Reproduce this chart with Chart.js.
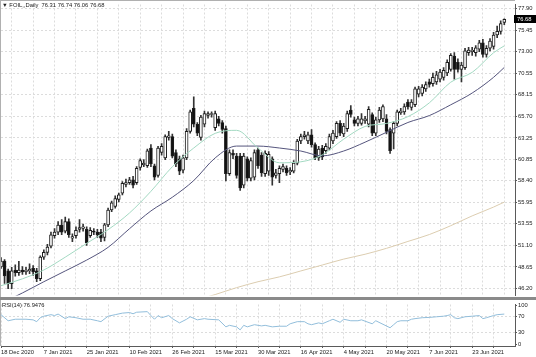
<!DOCTYPE html>
<html><head><meta charset="utf-8">
<script src="https://cdn.jsdelivr.net/npm/chart.js@4.4.1/dist/chart.umd.min.js"></script>
<style>
html,body{margin:0;padding:0;background:#fff;width:536px;height:357px;overflow:hidden;}
#wrap{position:relative;width:536px;height:357px;background:#fff;}
#main{position:absolute;left:0;top:0;}
#rsi{position:absolute;left:0;top:300px;}
.lbl{position:absolute;font:5.8px "Liberation Sans",Arial,sans-serif;color:#222;white-space:pre;line-height:7px;}
</style></head><body>
<div id="wrap">
<canvas id="main" width="536" height="300"></canvas>
<canvas id="rsi" width="536" height="57"></canvas>
<div class="lbl" id="t1" style="left:2px;top:2px"></div>
<div class="lbl" id="t2" style="left:2px;top:302px"></div>
</div>
<script>
// ---- data ----
const symbolTitle = 'FOIL,,Daily';
const tickLabels = ['18 Dec 2020','7 Jan 2021','25 Jan 2021','10 Feb 2021','26 Feb 2021','15 Mar 2021','30 Mar 2021','16 Apr 2021','4 May 2021','20 May 2021','7 Jun 2021','23 Jun 2021'];
const priceTicks = [77.90,75.45,73.00,70.55,68.15,65.70,63.25,60.85,58.40,55.95,53.55,51.10,48.65,46.20];
const rsiTicks = [0,30,70,100];
const rsiLevels = [30,70];

const opens = [48.65,49.32,48.2,46.76,48.3,48.0,48.3,48.1,48.2,48.5,
48.2,47.32,49.77,50.3,51.0,52.2,52.6,53.4,52.7,53.8,
51.9,52.2,52.9,53.0,52.9,52.2,52.7,52.6,52.6,51.99,
53.4,55.1,55.5,56.3,57.0,58.0,58.2,58.5,58.2,59.9,
60.2,60.1,62.1,60.1,59.0,61.6,61.0,63.3,63.4,61.6,
60.9,59.6,61.0,64.0,66.6,64.8,63.3,64.8,65.8,65.9,
64.4,65.4,65.0,64.3,59.2,61.5,61.2,61.2,57.9,60.9,
58.7,58.8,61.9,61.3,59.2,59.5,60.9,59.0,59.2,59.7,
59.8,59.4,59.5,60.4,62.9,63.4,62.9,63.6,62.5,61.0,
62.1,61.8,62.1,62.9,63.4,64.9,63.7,64.3,66.4,65.3,
64.9,64.9,65.2,64.8,65.9,63.8,65.3,65.4,65.4,64.2,
63.8,64.9,66.1,66.2,67.3,66.7,67.0,68.2,68.3,68.8,
69.6,69.4,69.6,69.9,70.1,70.6,71.0,72.5,71.8,71.0,
71.2,72.9,73.0,72.9,73.3,74.0,72.7,73.4,73.6,74.9,
75.3,76.31];
const highs = [49.7,49.5,48.4,48.6,48.9,49.3,48.7,48.6,49.0,48.8,
48.5,49.9,50.6,51.2,52.6,53.0,53.8,54.0,54.3,54.1,
52.4,53.2,54.0,53.5,53.2,53.1,53.0,52.9,52.9,53.6,
55.3,56.1,56.7,57.0,58.3,58.6,58.8,58.9,60.0,60.9,
60.8,62.0,62.5,60.3,62.3,62.6,63.6,64.0,63.7,61.9,
61.2,61.3,64.3,66.4,67.9,65.0,65.8,66.3,66.2,66.2,
66.3,65.7,65.2,64.6,61.9,61.9,61.5,61.5,61.5,61.1,
61.0,61.9,62.1,61.6,61.8,61.7,61.1,59.7,60.1,60.3,
60.1,59.9,60.7,63.1,63.7,64.0,63.9,64.2,62.7,62.3,
62.4,62.6,63.7,64.1,65.1,65.2,64.9,66.3,66.9,65.6,
65.7,66.0,65.7,66.8,66.1,65.6,66.7,67.0,65.9,64.4,
65.1,66.4,66.6,67.1,67.6,67.6,69.0,69.1,69.3,69.6,
69.9,70.6,70.8,71.0,71.2,72.1,72.8,72.9,72.2,71.8,
73.4,73.5,73.5,73.7,74.3,74.4,73.7,74.5,75.2,75.9,
76.5,76.74];
const lows = [48.5,46.8,46.2,46.2,47.6,47.7,47.8,47.8,47.9,47.7,
47.0,47.1,49.5,50.0,50.8,51.9,52.3,52.3,52.5,52.0,
51.5,51.9,52.6,52.7,51.1,52.0,52.3,52.0,51.5,51.6,
53.2,54.9,55.3,56.0,56.8,57.7,58.0,57.6,58.0,59.6,
60.0,59.9,60.0,58.5,58.8,61.3,60.8,63.0,61.0,60.0,
59.1,59.3,60.8,63.8,64.5,63.5,63.0,64.5,65.5,65.6,
64.1,64.6,63.8,58.4,59.0,60.9,58.7,57.3,57.6,58.4,
58.4,58.5,59.8,58.9,58.9,59.0,57.9,58.7,58.2,59.4,
59.0,59.1,59.3,60.2,62.6,63.1,62.6,62.2,60.8,60.7,
60.8,61.5,61.9,62.6,63.2,63.5,63.4,64.0,65.6,64.6,
64.6,64.7,64.9,64.5,63.5,63.5,65.0,65.1,63.7,61.5,
62.0,64.6,65.9,65.9,66.5,66.4,66.8,67.9,68.0,68.5,
69.0,69.1,69.3,69.6,69.8,70.3,70.8,69.9,70.7,69.6,
71.0,72.6,72.6,72.5,73.0,72.4,72.4,73.1,73.3,74.6,
75.0,76.06];
const closes = [49.32,47.65,46.76,48.21,48.0,48.3,48.1,48.3,48.4,48.1,
47.32,49.77,50.32,50.9,52.3,52.6,53.4,52.6,53.8,52.3,
52.1,52.8,53.1,53.2,51.4,52.8,52.6,52.3,51.9,53.43,
55.1,55.9,56.4,56.8,58.1,58.2,58.5,57.9,59.8,60.7,
60.4,61.8,60.3,58.8,62.1,62.3,63.4,63.5,61.2,60.3,
59.5,61.0,64.0,66.2,64.8,63.8,65.6,66.0,66.0,65.95,
66.0,64.9,64.2,59.2,61.6,61.3,59.0,57.6,61.2,58.7,
60.7,61.6,60.1,59.3,61.5,61.4,58.8,59.3,59.8,60.0,
59.3,59.6,60.4,62.9,63.4,63.6,63.6,62.5,61.0,62.0,
61.1,62.3,63.4,63.8,64.9,63.8,64.6,66.0,65.9,64.9,
65.4,65.4,65.4,66.5,63.8,65.3,66.4,66.8,64.0,61.8,
64.9,66.2,66.3,66.8,66.8,67.3,68.8,68.8,69.0,69.3,
69.3,70.1,70.4,70.7,70.9,71.8,72.6,71.0,71.0,71.5,
73.1,73.2,73.2,73.45,74.0,72.7,73.4,74.2,74.9,75.3,
76.2,76.68];

// moving averages read at grid lines: [bar index, value]
const maFast = [[0,46.53],[6,47.31],[12,48.31],[18,49.76],[24,51.32],[30,52.87],[36,54.76],[42,57.21],[48,59.99],[54,62.11],[60,63.77],[66,64.11],[72,62.11],[78,60.44],[84,60.55],[90,61.33],[96,63.11],[102,64.55],[108,64.89],[114,65.66],[120,67.22],[126,69.56],[132,70.67],[138,72.89],[141,73.67]];
const maSlow = [[0,44.53],[6,45.71],[12,46.98],[18,48.20],[24,49.43],[30,50.87],[36,52.98],[42,54.99],[48,56.54],[54,58.43],[60,60.99],[66,62.33],[72,62.33],[78,62.11],[84,61.77],[90,61.22],[96,61.77],[102,62.77],[108,63.89],[114,65.00],[120,65.78],[126,67.00],[132,68.33],[138,70.11],[141,71.23]];
const maLong = [[54,44.81],[60,45.53],[66,46.31],[72,46.98],[78,47.53],[84,48.20],[90,48.87],[96,49.54],[102,50.09],[108,50.76],[114,51.54],[120,52.32],[126,53.32],[132,54.43],[138,55.43],[141,55.99]];
const rsiPts = [[0,75.5],[2,60],[4,63.9],[7,63.9],[9,62.3],[10,57.7],[11,67.7],[12,71.6],[14,75.5],[15,73.2],[16,77.0],[18,65.4],[19,70.1],[21,67.7],[23,63.9],[25,63.9],[27,60],[28,57.7],[30,71.6],[32,75.5],[34,79.4],[36,80.9],[37,77.8],[38,81.7],[41,83.2],[42,73.2],[43,63.9],[44,73.2],[45,67.7],[47,73.2],[48,65.4],[50,54.6],[52,63.9],[53,70.1],[55,62.3],[57,65.4],[58,63.9],[61,62.3],[63,44.5],[64,48.4],[66,44.5],[67,36.8],[68,48.4],[69,44.5],[71,50],[73,46.9],[74,48.4],[76,44.5],[78,46.1],[80,46.1],[81,52.3],[83,57.7],[85,57.7],[86,52.3],[87,50],[89,54.6],[90,52.3],[92,60],[93,63.9],[95,56.1],[96,63.9],[98,60],[100,60],[101,62.3],[104,52.3],[105,60],[109,42.2],[110,50],[111,57.7],[112,60],[114,60],[115,63.9],[116,65.4],[118,67.7],[120,68.5],[122,70.1],[124,71.6],[125,73.2],[126,75.5],[127,67.7],[128,65.4],[130,70.1],[132,71.6],[134,73.2],[135,65.4],[136,67.7],[138,73.2],[139,75.5],[141,76.95]];
const rsiLast = 76.9476;

// ---- layout constants ----
const SLOTS = 145, LABEL_STEP = 12, GRID_STEP = 6;
const categories = Array.from({length: SLOTS}, (_, i) => 'b' + i);
const gridTicks = [];
for (let i = 0; i < SLOTS - 2; i += GRID_STEP) gridTicks.push(i);

const FONT = {family: '"Liberation Sans", Arial, sans-serif', size: 5.8};
const GRID_COLOR = '#dcdcdc';
const GRID_DASH = [2, 2];
const AXIS_COLOR = '#5a5a5a';
const CANDLE_LINE = '#1e1e1e';

document.getElementById('t1').textContent = '\u25BC ' + symbolTitle + '  ' +
  [opens[opens.length-1], highs[highs.length-1], lows[lows.length-1], closes[closes.length-1]].map(v => v.toFixed(2)).join(' ');
document.getElementById('t2').textContent = 'RSI(14) ' + rsiLast.toFixed(4);

const toPts = arr => arr.map(([i, v]) => ({x: categories[i], y: v}));

const mainDeco = {
  id: 'mainDeco',
  afterDraw(chart) {
    const ctx = chart.ctx;
    const y = chart.scales.y;
    ctx.save();
    ctx.fillStyle = '#b0b0b0';
    ctx.fillRect(0, 0, 515, 1);
    ctx.fillRect(0, 0, 1, 297);
    ctx.fillStyle = '#8a8a8a';
    ctx.fillRect(0, 297, 536, 3);
    const last = closes[closes.length - 1];
    const py = Math.round(y.getPixelForValue(last));
    ctx.fillStyle = '#000';
    ctx.fillRect(514, py - 4, 22, 8);
    ctx.fillStyle = '#fff';
    ctx.font = '5.8px "Liberation Sans", Arial, sans-serif';
    ctx.textBaseline = 'middle';
    ctx.textAlign = 'left';
    ctx.fillText(last.toFixed(2), 517, py + 0.5);
    ctx.restore();
  }
};

new Chart(document.getElementById('main'), {
  type: 'bar',
  data: {
    labels: categories,
    datasets: [
      {type: 'line', data: toPts(maFast), borderColor: '#a3d9c2', borderWidth: 1, pointRadius: 0, tension: 0.4, cubicInterpolationMode: 'monotone', order: 0},
      {type: 'line', data: toPts(maSlow), borderColor: '#55557d', borderWidth: 1, pointRadius: 0, tension: 0.4, cubicInterpolationMode: 'monotone', order: 0},
      {type: 'line', data: toPts(maLong), borderColor: '#dccdb0', borderWidth: 1, pointRadius: 0, tension: 0.4, cubicInterpolationMode: 'monotone', order: 0},
      {data: opens.map((o, i) => [o, closes[i]]), backgroundColor: opens.map((o, i) => closes[i] >= o ? '#ffffff' : '#111111'),
        borderColor: CANDLE_LINE, borderWidth: 1, borderSkipped: false, barThickness: 3, minBarLength: 1, grouped: false, order: 1},
      {data: highs.map((h, i) => [lows[i], h]), backgroundColor: '#333333', borderWidth: 0, barThickness: 1, grouped: false, order: 2}
    ]
  },
  options: {
    responsive: false, animation: false, devicePixelRatio: 1,
    layout: {padding: {left: 1, top: 1, right: 0, bottom: 3}},
    plugins: {legend: {display: false}, tooltip: {enabled: false}},
    scales: {
      x: {
        type: 'category', offset: false,
        afterBuildTicks: s => { s.ticks = gridTicks.map(v => ({value: v})); },
        afterFit: s => { s.height = 0; },
        ticks: {display: false, autoSkip: false},
        grid: {color: GRID_COLOR, drawTicks: false},
        border: {display: false, dash: GRID_DASH}
      },
      y: {
        position: 'right', min: 45.42, max: 78.35,
        afterBuildTicks: s => { s.ticks = priceTicks.map(v => ({value: v})); },
        afterFit: s => { s.width = 21; },
        ticks: {callback: v => Number(v).toFixed(2), font: FONT, color: '#222', padding: 1, autoSkip: false},
        grid: {color: GRID_COLOR, tickLength: 2, tickColor: AXIS_COLOR},
        border: {display: true, color: AXIS_COLOR, dash: GRID_DASH}
      }
    }
  },
  plugins: [mainDeco]
});

const rsiDeco = {
  id: 'rsiDeco',
  afterDraw(chart) {
    const ctx = chart.ctx;
    ctx.save();
    ctx.fillStyle = '#b0b0b0';
    ctx.fillRect(0, 0, 1, 46);
    ctx.restore();
  }
};

new Chart(document.getElementById('rsi'), {
  type: 'line',
  data: {
    labels: categories,
    datasets: [
      {data: toPts(rsiPts), borderColor: '#92bedb', borderWidth: 1, pointRadius: 0, tension: 0}
    ]
  },
  options: {
    responsive: false, animation: false, devicePixelRatio: 1,
    layout: {padding: {left: 1, top: 1, right: 0, bottom: 0}},
    plugins: {legend: {display: false}, tooltip: {enabled: false}},
    scales: {
      x: {
        type: 'category', offset: false,
        afterBuildTicks: s => { s.ticks = gridTicks.map(v => ({value: v})); },
        afterFit: s => { s.height = 11; },
        ticks: {autoSkip: false, maxRotation: 0, minRotation: 0, align: 'start', padding: 1, font: FONT, color: '#222',
          callback: v => (v % LABEL_STEP === 0 && tickLabels[v / LABEL_STEP]) || ''},
        grid: {color: GRID_COLOR, tickLength: 2, tickColor: AXIS_COLOR},
        border: {display: true, color: AXIS_COLOR, dash: GRID_DASH}
      },
      y: {
        position: 'right', min: -4.2, max: 101.4,
        afterBuildTicks: s => { s.ticks = rsiTicks.map(v => ({value: v})); },
        afterFit: s => { s.width = 21; },
        ticks: {font: FONT, color: '#222', padding: 1, autoSkip: false},
        grid: {color: c => rsiLevels.includes(c.tick && c.tick.value) ? GRID_COLOR : 'rgba(0,0,0,0)', tickLength: 2, tickColor: AXIS_COLOR},
        border: {display: true, color: AXIS_COLOR, dash: GRID_DASH}
      }
    }
  },
  plugins: [rsiDeco]
});
</script>
</body></html>
